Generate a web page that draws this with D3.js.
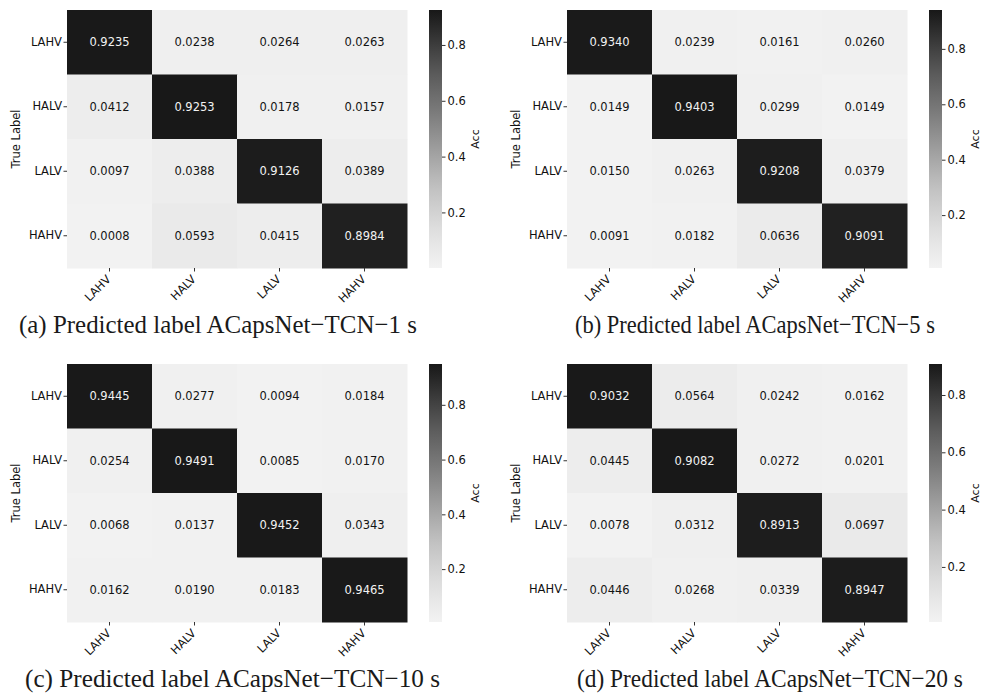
<!DOCTYPE html>
<html>
<head>
<meta charset="utf-8">
<script src="https://cdn.jsdelivr.net/npm/d3@7"></script>
<style>
  body { margin: 0; background: #fff; }
  svg text { font-family: "DejaVu Sans", sans-serif; }
  .caption { font-family: "Liberation Serif", "DejaVu Serif", serif !important; }
</style>
</head>
<body>
<svg id="chart" width="982" height="695"></svg>
<script>
var classLabels = [ 'LAHV', 'HALV', 'LALV', 'HAHV' ],
    // rows = true label, columns = predicted label
    acc1s = [
        [ 0.9235, 0.0238, 0.0264, 0.0263 ],
        [ 0.0412, 0.9253, 0.0178, 0.0157 ],
        [ 0.0097, 0.0388, 0.9126, 0.0389 ],
        [ 0.0008, 0.0593, 0.0415, 0.8984 ]
    ],
    acc5s = [
        [ 0.9340, 0.0239, 0.0161, 0.0260 ],
        [ 0.0149, 0.9403, 0.0299, 0.0149 ],
        [ 0.0150, 0.0263, 0.9208, 0.0379 ],
        [ 0.0091, 0.0182, 0.0636, 0.9091 ]
    ],
    acc10s = [
        [ 0.9445, 0.0277, 0.0094, 0.0184 ],
        [ 0.0254, 0.9491, 0.0085, 0.0170 ],
        [ 0.0068, 0.0137, 0.9452, 0.0343 ],
        [ 0.0162, 0.0190, 0.0183, 0.9465 ]
    ],
    acc20s = [
        [ 0.9032, 0.0564, 0.0242, 0.0162 ],
        [ 0.0445, 0.9082, 0.0272, 0.0201 ],
        [ 0.0078, 0.0312, 0.8913, 0.0697 ],
        [ 0.0446, 0.0268, 0.0339, 0.8947 ]
    ],
    captions = [
        '(a) Predicted label ACapsNet\u2212TCN\u22121 s',
        '(b) Predicted label ACapsNet\u2212TCN\u22125 s',
        '(c) Predicted label ACapsNet\u2212TCN\u221210 s',
        '(d) Predicted label ACapsNet\u2212TCN\u221220 s'
    ],
    colorbarTicks = [ 0.2, 0.4, 0.6, 0.8 ];

var panels = [
        { data: acc1s,  caption: captions[ 0 ], left: 67,  top: 10,  capX: 19,  capW: 398 },
        { data: acc5s,  caption: captions[ 1 ], left: 567, top: 10,  capX: 575, capW: 360 },
        { data: acc10s, caption: captions[ 2 ], left: 67,  top: 364, capX: 25,  capW: 415 },
        { data: acc20s, caption: captions[ 3 ], left: 567, top: 364, capX: 577, capW: 386 }
    ],
    mapW = 340,
    mapH = 258,
    svg  = d3.select( '#chart' );

panels.forEach( function( p, pi ) {
    drawPanel( p, pi );
} );

function shade( t ) {
    return d3.interpolateGreys( 0.1 + 0.82 * t );
}

function drawPanel( p, pi ) {
    var flat = d3.merge( p.data ),
        vmin = d3.min( flat ),
        vmax = d3.max( flat ),
        norm = d3.scaleLinear().domain( [ vmin, vmax ] ).range( [ 0, 1 ] ),
        x = d3.scaleBand().domain( classLabels ).range( [ 0, mapW ] ),
        y = d3.scaleBand().domain( classLabels ).range( [ 0, mapH ] ),
        g = svg.append( 'g' )
            .attr( 'transform', 'translate(' + p.left + ',' + p.top + ')' ),
        cells = [];

    p.data.forEach( function( row, ri ) {
        row.forEach( function( v, ci ) {
            cells.push( { row: classLabels[ ri ], col: classLabels[ ci ], value: v } );
        } );
    } );

    g.selectAll( '.cell' )
        .data( cells )
        .enter().append( 'rect' )
        .attr( 'class', 'cell' )
        .attr( 'x', function( d ) { return x( d.col ); } )
        .attr( 'y', function( d ) { return y( d.row ); } )
        .attr( 'width', x.bandwidth() + 0.5 )
        .attr( 'height', y.bandwidth() + 0.5 )
        .attr( 'fill', function( d ) { return shade( norm( d.value ) ); } );

    g.selectAll( '.annot' )
        .data( cells )
        .enter().append( 'text' )
        .attr( 'class', 'annot' )
        .attr( 'x', function( d ) { return x( d.col ) + x.bandwidth() / 2; } )
        .attr( 'y', function( d ) { return y( d.row ) + y.bandwidth() / 2; } )
        .attr( 'dy', '0.36em' )
        .attr( 'text-anchor', 'middle' )
        .attr( 'font-size', 11.5 )
        .attr( 'fill', function( d ) { return norm( d.value ) > 0.5 ? '#f2f2f2' : '#141414'; } )
        .text( function( d ) { return d.value.toFixed( 4 ); } );

    // y axis
    var yAxis = g.append( 'g' )
        .call( d3.axisLeft( y ).tickSize( 3.5 ).tickPadding( 1.5 ) );
    yAxis.select( '.domain' ).remove();
    yAxis.selectAll( 'text' ).attr( 'font-size', 11.5 ).attr( 'fill', '#111' )
        .style( 'font-family', '"DejaVu Sans", sans-serif' );
    yAxis.selectAll( 'line' ).attr( 'stroke', '#333' );

    // x axis
    var xAxis = g.append( 'g' )
        .attr( 'transform', 'translate(0,' + mapH + ')' )
        .call( d3.axisBottom( x ).tickSize( 3.5 ) );
    xAxis.select( '.domain' ).remove();
    xAxis.selectAll( 'line' ).attr( 'stroke', '#333' );
    xAxis.selectAll( 'text' )
        .attr( 'font-size', 11.5 )
        .attr( 'fill', '#111' )
        .style( 'font-family', '"DejaVu Sans", sans-serif' )
        .attr( 'text-anchor', 'end' )
        .attr( 'x', 2 )
        .attr( 'y', 12 )
        .attr( 'dy', '0' )
        .attr( 'transform', 'rotate(-45, 2, 12)' );

    g.append( 'text' )
        .attr( 'transform', 'translate(' + ( 16 - p.left + ( p.left > 300 ? 500 : 0 ) ) + ',' + ( mapH / 2 ) + ') rotate(-90)' )
        .attr( 'text-anchor', 'middle' )
        .attr( 'dy', '0.35em' )
        .attr( 'font-size', 11.5 )
        .attr( 'fill', '#111' )
        .text( 'True Label' );

    // colorbar
    var cbX = mapW + 22,
        cbW = 13,
        cbScale = d3.scaleLinear().domain( [ vmin, vmax ] ).range( [ mapH, 0 ] ),
        gradId = 'grad' + pi,
        grad = svg.append( 'defs' ).append( 'linearGradient' )
            .attr( 'id', gradId )
            .attr( 'x1', 0 ).attr( 'y1', 1 ).attr( 'x2', 0 ).attr( 'y2', 0 );

    d3.range( 0, 1.0001, 0.05 ).forEach( function( t ) {
        grad.append( 'stop' )
            .attr( 'offset', t )
            .attr( 'stop-color', shade( t ) );
    } );

    var cb = g.append( 'g' ).attr( 'transform', 'translate(' + cbX + ',0)' );
    cb.append( 'rect' )
        .attr( 'width', cbW )
        .attr( 'height', mapH )
        .attr( 'fill', 'url(#' + gradId + ')' );

    var cbAxis = cb.append( 'g' )
        .attr( 'transform', 'translate(' + cbW + ',0)' )
        .call( d3.axisRight( cbScale ).tickValues( colorbarTicks ).tickSize( 3.5 ).tickPadding( 2 )
            .tickFormat( d3.format( '.1f' ) ) );
    cbAxis.select( '.domain' ).remove();
    cbAxis.selectAll( 'line' ).attr( 'stroke', '#333' );
    cbAxis.selectAll( 'text' ).attr( 'font-size', 11.5 ).attr( 'fill', '#111' )
        .style( 'font-family', '"DejaVu Sans", sans-serif' );

    cb.append( 'text' )
        .attr( 'transform', 'translate(' + ( cbW + 33 ) + ',' + ( mapH / 2 ) + ') rotate(-90)' )
        .attr( 'text-anchor', 'middle' )
        .attr( 'dy', '0.35em' )
        .attr( 'font-size', 11 )
        .attr( 'fill', '#111' )
        .text( 'Acc' );

    // caption: squeeze horizontally to the width it has in the figure
    var cap = svg.append( 'text' )
        .attr( 'class', 'caption' )
        .attr( 'font-size', 26 )
        .attr( 'fill', '#1a1a1a' )
        .text( p.caption ),
        natural = cap.node().getComputedTextLength();

    cap.attr( 'transform', 'translate(' + p.capX + ',' + ( p.top + 323 ) + ') scale(' + ( p.capW / natural ) + ',1)' );
}
</script>
</body>
</html>
